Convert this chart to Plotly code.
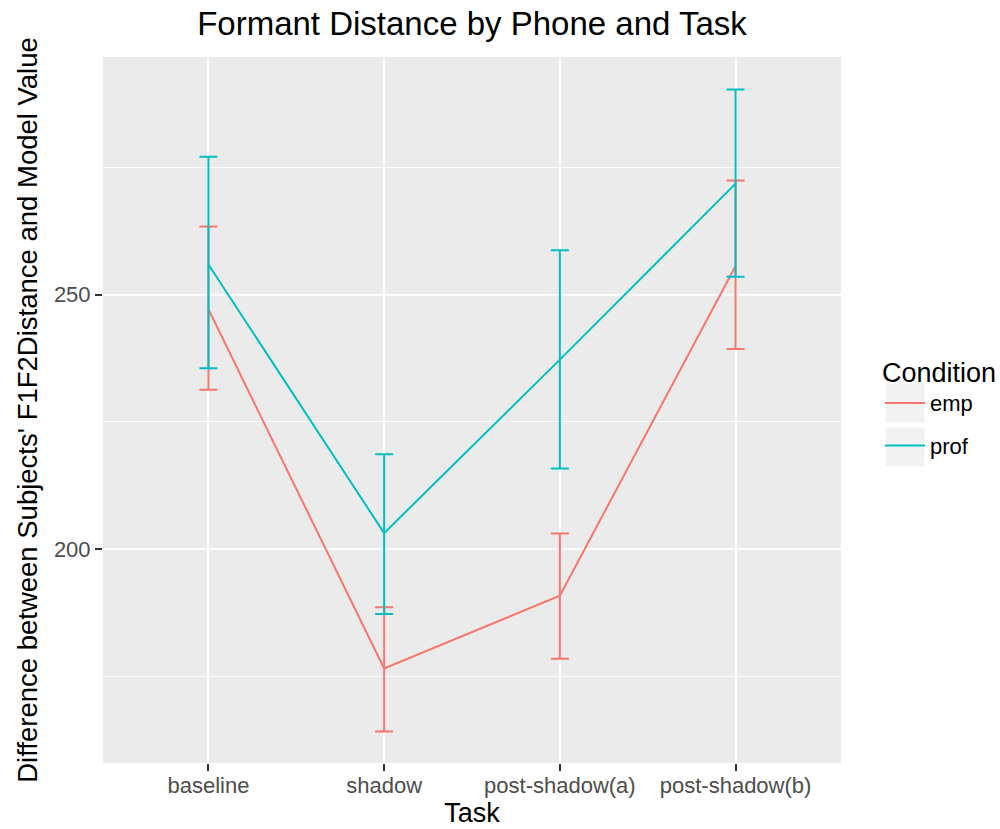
import plotly.graph_objects as go

tasks = ["baseline", "shadow", "post-shadow(a)", "post-shadow(b)"]
conditions = ["emp", "prof"]

emp_mean = [247.1, 176.5, 190.8, 255.6]
emp_upper = [263.4, 188.5, 203.0, 272.4]
emp_lower = [231.3, 164.1, 178.4, 239.3]

prof_mean = [255.9, 203.1, 237.2, 271.8]
prof_upper = [277.1, 218.6, 258.7, 290.3]
prof_lower = [235.5, 187.2, 215.8, 253.5]

colors = {"emp": "#F8766D", "prof": "#00BFC4"}
series = {
    "emp": (emp_mean, emp_upper, emp_lower),
    "prof": (prof_mean, prof_upper, prof_lower),
}

FONT = "Liberation Sans, Arial, Helvetica, sans-serif"

fig = go.Figure()
for cond in conditions:
    mean, up, lo = series[cond]
    fig.add_trace(go.Scatter(
        x=tasks, y=mean, mode="lines", name=cond, legendgroup=cond,
        line=dict(color=colors[cond], width=2),
        error_y=dict(type="data", symmetric=False,
                     array=[u - m for u, m in zip(up, mean)],
                     arrayminus=[m - l for m, l in zip(mean, lo)],
                     color=colors[cond], thickness=2, width=9),
    ))

# legend key backgrounds (ggplot style)
def px2paper_x(px):
    return (px - 103) / 738.0

def px2paper_y(py):
    return (763 - py) / 706.0

for (y0, y1) in [(383, 423), (427, 467)]:
    fig.add_shape(type="rect", xref="paper", yref="paper",
                  x0=px2paper_x(885), x1=px2paper_x(925),
                  y0=px2paper_y(y1), y1=px2paper_y(y0),
                  fillcolor="#F2F2F2", line=dict(color="white", width=1),
                  layer="below")

fig.update_layout(
    width=1000, height=829,
    margin=dict(l=103, r=159, t=57, b=66, autoexpand=False),
    paper_bgcolor="white", plot_bgcolor="#EBEBEB",
    font=dict(family=FONT, color="black"),
    title=dict(text="Formant Distance by Phone and Task",
               x=(103 + 841) / 2 / 1000, xanchor="center",
               y=1 - 23 / 829, yanchor="middle",
               font=dict(size=33, color="black", family=FONT)),
    showlegend=True,
    legend=dict(title=dict(text="Condition", font=dict(size=27, family=FONT)),
                font=dict(size=22, family=FONT),
                x=px2paper_x(880), xanchor="left",
                y=px2paper_y(347), yanchor="top",
                itemwidth=40,
                bgcolor="rgba(0,0,0,0)", tracegroupgap=11),
)

fig.update_xaxes(
    type="category", categoryorder="array", categoryarray=tasks,
    range=[-0.6, 3.6], automargin=False,
    showgrid=True, gridcolor="white", gridwidth=2,
    zeroline=False, showline=False,
    ticks="outside", ticklen=7, tickwidth=1.5, tickcolor="#333333",
    ticklabelstandoff=-4,
    tickfont=dict(size=22, color="#4D4D4D", family=FONT),
    title=dict(text="Task", font=dict(size=27, color="black", family=FONT), standoff=4),
)

fig.update_yaxes(
    range=[157.9, 296.7], automargin=False,
    tickvals=[200, 250],
    showgrid=True, gridcolor="white", gridwidth=2,
    minor=dict(tickvals=[175, 225, 275], showgrid=True, gridcolor="white",
               gridwidth=1, ticks=""),
    zeroline=False, showline=False,
    ticks="outside", ticklen=7, tickwidth=1.5, tickcolor="#333333",
    tickfont=dict(size=22, color="#4D4D4D", family=FONT),
    title=dict(text="Difference between Subjects' F1F2Distance and Model Value",
               font=dict(size=27.5, color="black", family=FONT), standoff=8),
)

fig.write_html("out.html", config={"displayModeBar": False},
               post_script="document.body.style.margin='0';document.body.style.padding='0';")
